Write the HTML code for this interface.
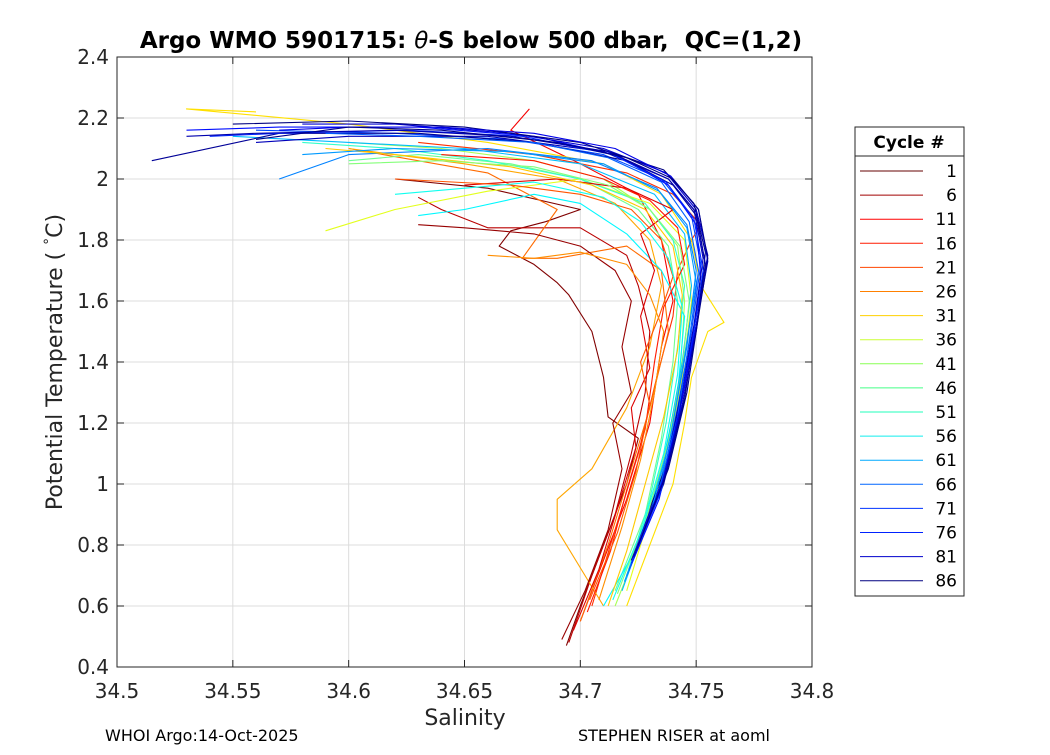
<!DOCTYPE html>
<html><head><meta charset="utf-8"><style>
body{margin:0;background:#fff;font-family:"Liberation Sans","DejaVu Sans",sans-serif}
svg text{font-family:"DejaVu Sans","Liberation Sans",sans-serif}
</style></head><body>
<svg id="chart" width="1050" height="750" viewBox="0 0 1050 750" xmlns="http://www.w3.org/2000/svg">
<rect x="0" y="0" width="1050" height="750" fill="#fff"/>
<rect x="117" y="57" width="695" height="610" fill="#fff" stroke="none"/>
<g id="grid"></g>
<g id="lines"></g>
<rect x="117" y="57" width="695" height="610" fill="none" stroke="#262626" stroke-width="1"/>
<g id="ticks"></g>
<text x="471" y="48" text-anchor="middle" font-size="23" font-weight="bold" fill="#000" xml:space="preserve">Argo WMO 5901715: <tspan font-style="italic" font-weight="normal">θ</tspan>-S below 500 dbar,  QC=(1,2)</text>
<text x="465" y="725" text-anchor="middle" font-size="22" fill="#262626">Salinity</text>
<text transform="translate(62,362) rotate(-90)" text-anchor="middle" font-size="22" fill="#262626">Potential Temperature ( <tspan baseline-shift="super" font-size="14">°</tspan>C)</text>
<text x="105" y="741" font-size="16" fill="#000">WHOI Argo:14-Oct-2025</text>
<text x="578" y="741" font-size="16" fill="#000">STEPHEN RISER at aoml</text>
<g id="legend">
<rect x="855" y="127" width="109" height="469" fill="#fff" stroke="#262626"/>
<text x="909" y="148" text-anchor="middle" font-size="17" font-weight="bold" fill="#000">Cycle #</text>
<line x1="855" y1="156" x2="964" y2="156" stroke="#262626"/>
</g>
</svg>
<script>
const xTicks=[34.5,34.55,34.6,34.65,34.7,34.75,34.8];
const xTickLabels=["34.5","34.55","34.6","34.65","34.7","34.75","34.8"];
const yTicks=[0.4,0.6,0.8,1,1.2,1.4,1.6,1.8,2,2.2,2.4];
const yTickLabels=["0.4","0.6","0.8","1","1.2","1.4","1.6","1.8","2","2.2","2.4"];
const legendCycles=[1,6,11,16,21,26,31,36,41,46,51,56,61,66,71,76,81,86];
const legendColors=["#660000","#a00000","#ff0000","#ff1a00","#ff4400","#ff8000","#ffd000","#ccff33","#88ff55","#44ff88","#22ffbb","#11eeee","#00aaff","#0066ff","#0033ff","#0022ff","#0000cc","#000080"];
const profileCycles=[1,6,11,16,21,26,31,36,41,46,51,56,61,66,71,76,81,83,86,88,3,9,14,19,24,29,44,54,64,69,74,79,84,87];
const profileData=[
[[34.694,0.47],[34.70,0.6],[34.71,0.8],[34.72,1.0],[34.725,1.15],[34.712,1.22],[34.71,1.35],[34.705,1.5],[34.695,1.62],[34.69,1.66],[34.68,1.72],[34.665,1.78],[34.67,1.83],[34.685,1.86],[34.70,1.9],[34.66,1.97],[34.62,2.0]],
[[34.695,0.48],[34.705,0.7],[34.715,0.9],[34.722,1.1],[34.728,1.3],[34.73,1.5],[34.725,1.65],[34.72,1.75],[34.70,1.84],[34.66,1.84],[34.64,1.9],[34.63,1.94]],
[[34.70,0.55],[34.71,0.75],[34.72,0.95],[34.73,1.2],[34.735,1.45],[34.74,1.6],[34.735,1.8],[34.725,1.95],[34.70,2.05],[34.67,2.16],[34.678,2.23]],
[[34.705,0.6],[34.715,0.85],[34.725,1.1],[34.733,1.35],[34.74,1.55],[34.742,1.7],[34.748,1.8],[34.752,1.85],[34.74,1.95],[34.72,2.02],[34.68,2.08],[34.63,2.12]],
[[34.70,0.55],[34.712,0.8],[34.72,1.0],[34.73,1.25],[34.738,1.5],[34.735,1.7],[34.72,1.78],[34.69,1.74],[34.675,1.74],[34.69,1.9],[34.66,2.02],[34.6,2.1]],
[[34.71,0.6],[34.702,0.7],[34.69,0.85],[34.69,0.95],[34.705,1.05],[34.72,1.25],[34.73,1.45],[34.735,1.65],[34.73,1.8],[34.715,1.92],[34.69,2.0],[34.65,2.05],[34.6,2.1]],
[[34.72,0.6],[34.73,0.8],[34.74,1.0],[34.745,1.2],[34.748,1.35],[34.755,1.5],[34.762,1.53],[34.752,1.65],[34.748,1.8],[34.735,1.95],[34.71,2.05],[34.66,2.12],[34.6,2.18],[34.53,2.23],[34.56,2.22]],
[[34.72,0.65],[34.73,0.9],[34.738,1.1],[34.744,1.35],[34.748,1.6],[34.745,1.8],[34.73,1.92],[34.70,2.0],[34.66,1.96],[34.62,1.9],[34.59,1.83]],
[[34.715,0.6],[34.728,0.85],[34.737,1.1],[34.743,1.35],[34.745,1.6],[34.742,1.78],[34.73,1.9],[34.71,2.0],[34.68,2.06],[34.64,2.1],[34.6,2.12]],
[[34.715,0.65],[34.728,0.9],[34.735,1.15],[34.74,1.4],[34.742,1.6],[34.738,1.78],[34.725,1.9],[34.70,2.0],[34.67,2.05],[34.63,2.08],[34.6,2.06]],
[[34.72,0.7],[34.73,0.95],[34.737,1.2],[34.742,1.45],[34.745,1.65],[34.74,1.8],[34.728,1.92],[34.70,2.0],[34.66,2.06],[34.62,2.1],[34.58,2.12]],
[[34.71,0.6],[34.725,0.8],[34.735,1.05],[34.742,1.3],[34.745,1.55],[34.735,1.7],[34.72,1.82],[34.70,1.92],[34.68,1.95],[34.65,1.9],[34.63,1.88]],
[[34.718,0.65],[34.73,0.9],[34.738,1.15],[34.744,1.4],[34.748,1.65],[34.745,1.82],[34.732,1.95],[34.70,2.05],[34.65,2.1],[34.6,2.12],[34.55,2.14]],
[[34.72,0.7],[34.733,0.95],[34.74,1.2],[34.746,1.45],[34.75,1.7],[34.746,1.85],[34.733,1.97],[34.705,2.06],[34.66,2.1],[34.6,2.08],[34.57,2.0]],
[[34.722,0.75],[34.735,1.0],[34.742,1.25],[34.748,1.5],[34.752,1.72],[34.748,1.88],[34.735,2.0],[34.71,2.08],[34.67,2.13],[34.62,2.15],[34.56,2.16]],
[[34.72,0.7],[34.734,0.95],[34.742,1.2],[34.748,1.45],[34.752,1.68],[34.75,1.85],[34.738,1.98],[34.715,2.08],[34.68,2.14],[34.63,2.17],[34.57,2.17],[34.53,2.16]],
[[34.725,0.8],[34.737,1.05],[34.744,1.3],[34.75,1.55],[34.755,1.75],[34.75,1.9],[34.737,2.02],[34.71,2.1],[34.67,2.15],[34.62,2.18],[34.58,2.18]],
[[34.723,0.78],[34.736,1.02],[34.743,1.28],[34.749,1.52],[34.753,1.74],[34.749,1.9],[34.738,2.0],[34.71,2.09],[34.66,2.14],[34.6,2.14],[34.56,2.12]],
[[34.722,0.75],[34.736,1.0],[34.745,1.28],[34.75,1.52],[34.754,1.72],[34.75,1.88],[34.74,1.98],[34.72,2.06],[34.68,2.12],[34.63,2.15],[34.57,2.15],[34.515,2.06]],
[[34.724,0.8],[34.737,1.06],[34.745,1.32],[34.751,1.56],[34.754,1.76],[34.749,1.92],[34.736,2.03],[34.70,2.12],[34.65,2.17],[34.6,2.19],[34.55,2.18]],
[[34.692,0.49],[34.702,0.65],[34.712,0.85],[34.718,1.05],[34.714,1.2],[34.722,1.3],[34.718,1.45],[34.722,1.6],[34.715,1.7],[34.7,1.78],[34.68,1.82],[34.65,1.84],[34.63,1.85]],
[[34.697,0.52],[34.708,0.72],[34.716,0.92],[34.724,1.12],[34.722,1.25],[34.73,1.38],[34.726,1.55],[34.732,1.7],[34.726,1.82],[34.74,1.9],[34.72,1.97],[34.69,2.0],[34.65,1.98]],
[[34.703,0.58],[34.713,0.78],[34.72,0.98],[34.728,1.18],[34.732,1.4],[34.736,1.58],[34.745,1.72],[34.742,1.84],[34.73,1.93],[34.71,2.0],[34.68,2.06],[34.64,2.08]],
[[34.704,0.62],[34.716,0.84],[34.724,1.04],[34.73,1.26],[34.726,1.4],[34.734,1.55],[34.74,1.68],[34.735,1.8],[34.722,1.9],[34.7,1.95],[34.67,1.98],[34.62,2.0]],
[[34.708,0.62],[34.718,0.86],[34.726,1.08],[34.732,1.3],[34.736,1.5],[34.73,1.62],[34.72,1.72],[34.7,1.76],[34.68,1.74],[34.66,1.75]],
[[34.712,0.6],[34.72,0.78],[34.728,1.0],[34.736,1.22],[34.742,1.44],[34.744,1.62],[34.74,1.78],[34.728,1.9],[34.705,1.98],[34.67,2.04],[34.62,2.08],[34.59,2.1]],
[[34.716,0.64],[34.729,0.9],[34.738,1.14],[34.744,1.38],[34.747,1.6],[34.743,1.78],[34.73,1.9],[34.712,1.98],[34.68,2.04],[34.64,2.06],[34.6,2.05]],
[[34.714,0.62],[34.727,0.86],[34.736,1.1],[34.742,1.36],[34.744,1.58],[34.738,1.74],[34.726,1.86],[34.71,1.94],[34.68,1.99],[34.65,1.97],[34.62,1.95]],
[[34.719,0.68],[34.731,0.92],[34.739,1.16],[34.745,1.42],[34.75,1.66],[34.746,1.84],[34.734,1.96],[34.71,2.05],[34.67,2.09],[34.62,2.1],[34.58,2.08]],
[[34.721,0.72],[34.734,0.98],[34.742,1.22],[34.747,1.47],[34.751,1.7],[34.747,1.86],[34.735,1.99],[34.712,2.07],[34.68,2.12],[34.63,2.14],[34.59,2.15]],
[[34.722,0.74],[34.735,0.98],[34.743,1.24],[34.749,1.5],[34.753,1.7],[34.749,1.87],[34.737,1.99],[34.714,2.08],[34.675,2.14],[34.625,2.16],[34.57,2.15],[34.54,2.14]],
[[34.724,0.78],[34.736,1.02],[34.744,1.28],[34.75,1.52],[34.755,1.73],[34.751,1.9],[34.739,2.01],[34.715,2.1],[34.68,2.15],[34.64,2.17],[34.6,2.17],[34.57,2.16]],
[[34.723,0.76],[34.736,1.01],[34.744,1.26],[34.75,1.5],[34.754,1.72],[34.75,1.89],[34.738,2.0],[34.712,2.09],[34.67,2.14],[34.62,2.16],[34.56,2.15],[34.53,2.14]],
[[34.725,0.8],[34.738,1.05],[34.746,1.3],[34.751,1.55],[34.755,1.74],[34.751,1.9],[34.74,2.0],[34.72,2.07],[34.69,2.12],[34.64,2.16],[34.6,2.17],[34.56,2.13]]
];
const NS="http://www.w3.org/2000/svg";
const X0=117,X1=812,Y0=667,Y1=57;
const xs=s=>X0+(s-34.5)/0.3*(X1-X0);
const ys=t=>Y0-(t-0.4)/2.0*(Y0-Y1);
function jet(c){const t=1-(c-1)/87;const cl=v=>Math.max(0,Math.min(1,v));
 const r=cl(1.5-Math.abs(4*t-3)),g=cl(1.5-Math.abs(4*t-2)),b=cl(1.5-Math.abs(4*t-1));
 return `rgb(${Math.round(r*255)},${Math.round(g*255)},${Math.round(b*255)})`;}
function mk(tag,attrs,parent){const e=document.createElementNS(NS,tag);for(const k in attrs)e.setAttribute(k,attrs[k]);parent.appendChild(e);return e;}
const grid=document.getElementById('grid'),ticks=document.getElementById('ticks');
xTicks.forEach((v,i)=>{const x=xs(v);
 const g=mk('line',{x1:x,x2:x,y1:Y1,y2:Y0,stroke:'#dcdcdc','stroke-width':1},grid);
 
 
 mk('line',{x1:x,x2:x,y1:Y0,y2:Y0-7,stroke:'#262626'},ticks);
 mk('line',{x1:x,x2:x,y1:Y1,y2:Y1+7,stroke:'#262626'},ticks);
 const t=mk('text',{x:x,y:Y0+31,'text-anchor':'middle','font-size':20,fill:'#262626'},ticks);
 
 
 t.textContent=xTickLabels[i];});
yTicks.forEach((v,i)=>{const y=ys(v);
 const g=mk('line',{x1:X0,x2:X1,y1:y,y2:y,stroke:'#dcdcdc','stroke-width':1},grid);
 
 
 mk('line',{x1:X0,x2:X0+7,y1:y,y2:y,stroke:'#262626'},ticks);
 mk('line',{x1:X1,x2:X1-7,y1:y,y2:y,stroke:'#262626'},ticks);
 const t=mk('text',{x:X0-8,y:y+7,'text-anchor':'end','font-size':20,fill:'#262626'},ticks);
 
 
 t.textContent=yTickLabels[i];});
const lines=document.getElementById('lines');
profileData.forEach((p,i)=>{
 const pl=mk('polyline',{points:p.map(d=>xs(d[0]).toFixed(1)+','+ys(d[1]).toFixed(1)).join(' '),fill:'none',stroke:jet(profileCycles[i]),'stroke-width':1.1,'stroke-linejoin':'round'},lines);
 
 });
const leg=document.getElementById('legend');
legendCycles.forEach((c,i)=>{const y=171+i*24.1;
 const l=mk('line',{x1:860,x2:923,y1:y,y2:y,stroke:legendColors[i],'stroke-width':1},leg);
 
 
 const t=mk('text',{x:957,y:y+6,'text-anchor':'end','font-size':17,fill:'#000'},leg);
 
 
 t.textContent=c;});
</script>
</body></html>
